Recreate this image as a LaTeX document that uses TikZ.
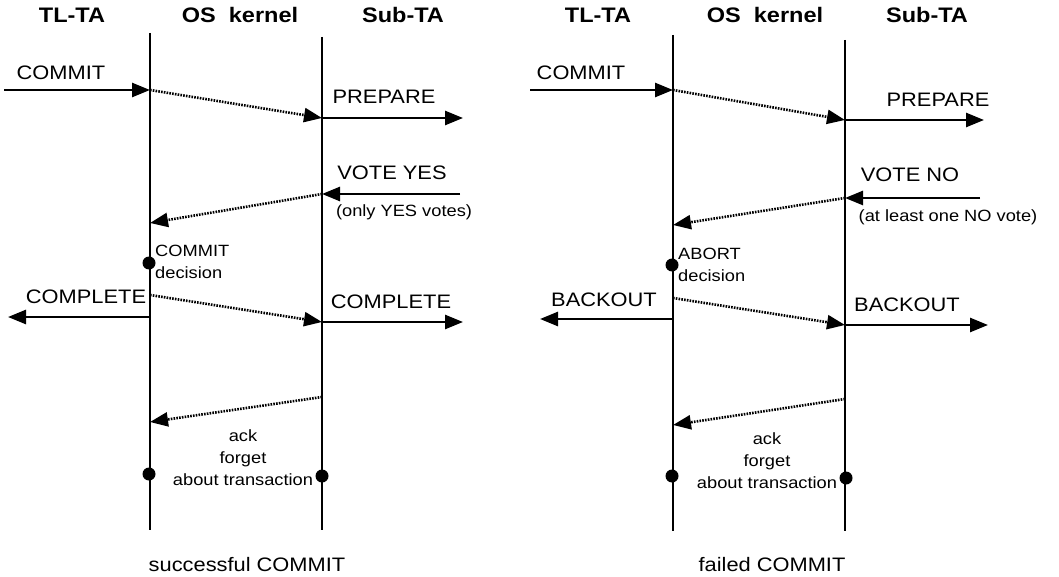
\documentclass[tikz,border=0pt]{standalone}
\usepackage{fontspec}
\setmainfont{Liberation Sans}
\newfontfamily\lblfont[FakeStretch=1.12]{Liberation Sans}
\usetikzlibrary{arrows.meta}

\tikzset{
  lane/.style={line width=2.2pt},
  tip/.style={-{Triangle[length=18pt,width=14pt]}},
  msg/.style={line width=2.6pt, tip},
  kmsg/.style={line width=2.6pt, dash pattern=on 1.6pt off 1.2pt, tip},
  event/.style={circle, fill, minimum size=13pt, inner sep=0pt},
  big/.style={font=\lblfont\fontsize{19.5}{23}\selectfont, inner sep=0pt},
  small/.style={font=\lblfont\fontsize{16.3}{22}\selectfont, inner sep=0pt, align=center},
  head/.style={font=\lblfont\bfseries\fontsize{21}{24}\selectfont, inner sep=0pt},
}

\begin{document}
\begin{tikzpicture}[x=1pt, y=-1pt]
  \useasboundingbox (0,0) rectangle (1059,577);

  % ---------------- successful commit ----------------
  \node[head] (sTL)  at (72,15)  {TL-TA};
  \node[head] (sOS)  at (240,15) {OS\ \ kernel};
  \node[head] (sSub) at (403,15) {Sub-TA};

  \coordinate (sK1t) at (150,33);  \coordinate (sK1b) at (150,530);
  \coordinate (sK2t) at (322,37);  \coordinate (sK2b) at (322,530);
  \draw[lane] (sK1t) -- (sK1b);
  \draw[lane] (sK2t) -- (sK2b);

  % commit request and prepare
  \coordinate (sIn)  at (4,90);
  \coordinate (sA1)  at (150,90);
  \coordinate (sB1)  at (322,118);
  \coordinate (sOut1) at (463,118);
  \draw[msg]  (sIn) -- (sA1);
  \draw[kmsg] (sA1) -- (sB1);
  \draw[msg]  (sB1) -- (sOut1);
  \node[big] (sCommit)  at (61,73)  {COMMIT};
  \node[big] (sPrep)    at (384,97) {PREPARE};

  % votes
  \coordinate (sVin) at (460,194);
  \coordinate (sB2)  at (322,194);
  \coordinate (sA2)  at (150,223);
  \draw[msg]  (sVin) -- (sB2);
  \draw[kmsg] (sB2) -- (sA2);
  \node[big]   (sVote)  at (392,173) {VOTE YES};
  \node[small] (sVnote) at (404,212) {(only YES votes)};

  % decision
  \node[event] (sDec) at (149,263) {};
  \node[small, align=left, anchor=west] (sDecL) at (155,262) {COMMIT\\decision};

  % completion
  \coordinate (sA3)  at (150,317);
  \coordinate (sOut2) at (8,317);
  \coordinate (sA4)  at (150,295);
  \coordinate (sB3)  at (322,322);
  \coordinate (sOut3) at (463,322);
  \draw[msg]  (sA3) -- (sOut2);
  \draw[kmsg] (sA4) -- (sB3);
  \draw[msg]  (sB3) -- (sOut3);
  \node[big] (sComp1) at (86,297) {COMPLETE};
  \node[big] (sComp2) at (391,302) {COMPLETE};

  % acknowledgement
  \coordinate (sB4) at (322,397);
  \coordinate (sA5) at (150,422);
  \draw[kmsg] (sB4) -- (sA5);
  \node[small] (sAck) at (243,458) {ack\\forget\\about transaction};
  \node[event] (sEndA) at (149,474) {};
  \node[event] (sEndB) at (322,476) {};

  \node[big] (sCap) at (247,565) {successful COMMIT};

  % ---------------- failed commit ----------------
  \node[head] (fTL)  at (598,15) {TL-TA};
  \node[head] (fOS)  at (765,15) {OS\ \ kernel};
  \node[head] (fSub) at (927,15) {Sub-TA};

  \coordinate (fK1t) at (673,35);  \coordinate (fK1b) at (673,531);
  \coordinate (fK2t) at (845,40);  \coordinate (fK2b) at (845,531);
  \draw[lane] (fK1t) -- (fK1b);
  \draw[lane] (fK2t) -- (fK2b);

  % commit request and prepare
  \coordinate (fIn)  at (530,90);
  \coordinate (fA1)  at (673,90);
  \coordinate (fB1)  at (845,120);
  \coordinate (fOut1) at (984,120);
  \draw[msg]  (fIn) -- (fA1);
  \draw[kmsg] (fA1) -- (fB1);
  \draw[msg]  (fB1) -- (fOut1);
  \node[big] (fCommit) at (581,73)  {COMMIT};
  \node[big] (fPrep)   at (938,100) {PREPARE};

  % votes
  \coordinate (fVin) at (980,198);
  \coordinate (fB2)  at (845,198);
  \coordinate (fA2)  at (673,225);
  \draw[msg]  (fVin) -- (fB2);
  \draw[kmsg] (fB2) -- (fA2);
  \node[big]   (fVote)  at (910,175) {VOTE NO};
  \node[small] (fVnote) at (948,217) {(at least one NO vote)};

  % decision
  \node[event] (fDec) at (672,265) {};
  \node[small, align=left, anchor=west] (fDecL) at (678,265) {ABORT\\decision};

  % backout
  \coordinate (fA3)  at (673,319);
  \coordinate (fOut2) at (540,319);
  \coordinate (fA4)  at (673,298);
  \coordinate (fB3)  at (845,325);
  \coordinate (fOut3) at (988,325);
  \draw[msg]  (fA3) -- (fOut2);
  \draw[kmsg] (fA4) -- (fB3);
  \draw[msg]  (fB3) -- (fOut3);
  \node[big] (fBack1) at (604,300) {BACKOUT};
  \node[big] (fBack2) at (907,305) {BACKOUT};

  % acknowledgement
  \coordinate (fB4) at (845,399);
  \coordinate (fA5) at (673,425);
  \draw[kmsg] (fB4) -- (fA5);
  \node[small] (fAck) at (767,461) {ack\\forget\\about transaction};
  \node[event] (fEndA) at (672,476) {};
  \node[event] (fEndB) at (846,478) {};

  \node[big] (fCap) at (772,565) {failed COMMIT};
\end{tikzpicture}
\end{document}
